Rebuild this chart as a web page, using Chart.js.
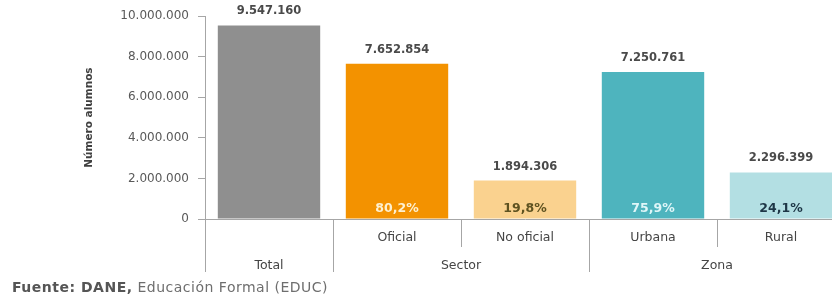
<!DOCTYPE html>
<html>
<head>
<meta charset="utf-8">
<script src="https://cdn.jsdelivr.net/npm/chart.js@4/dist/chart.umd.min.js"></script>
<style>
    html, body { margin: 0; padding: 0; background: #fff; overflow: hidden; }
    #wrap { position: relative; width: 846px; height: 297px; }
    #fuente {
        position: absolute; left: 12px; top: 279px;
        font: 14px "DejaVu Sans", sans-serif; color: #6e6e6e; white-space: nowrap;
        line-height: 17px; letter-spacing: 0.5px;
    }
    #fuente b { color: #555; }
</style>
</head>
<body>
<div id="wrap">
    <canvas id="chart" width="846" height="297"></canvas>
    <div id="fuente"><b>Fuente: DANE,</b> Educación Formal (EDUC)</div>
</div>
<script>
// Datos: número de alumnos
const categorias = ['Total', 'Oficial', 'No oficial', 'Urbana', 'Rural'];
const grupos = ['', 'Sector', 'Sector', 'Zona', 'Zona'];
const alumnos = [9547160, 7652854, 1894306, 7250761, 2296399];
const porcentajes = ['', '80,2%', '19,8%', '75,9%', '24,1%'];
const colores = ['#8f8f8f', '#f39200', '#fad28f', '#4eb4be', '#b3dfe3'];
const coloresPct = ['#fff', '#fdf0d0', '#5e5220', '#dff6f8', '#1d3646'];
const ticksY = [0, 2000000, 4000000, 6000000, 8000000, 10000000];

const FONT = '"DejaVu Sans", sans-serif';
const GRIS = '#a6a6a6';

function formato(n) {
    return String(n).replace(/\B(?=(\d{3})+(?!\d))/g, '.');
}

// Etiquetas sobre las barras, porcentajes y ejes por niveles
const etiquetasPlugin = {
    id: 'etiquetas',
    afterDatasetsDraw(chart) {
        const ctx = chart.ctx;
        const meta = chart.getDatasetMeta(0);
        const x = chart.scales.x;
        const area = chart.chartArea;
        const medio = (x.getPixelForValue(1) - x.getPixelForValue(0)) / 2;

        ctx.save();
        ctx.textAlign = 'center';
        ctx.textBaseline = 'middle';

        meta.data.forEach((bar, i) => {
            ctx.font = 'bold 11.5px ' + FONT;
            ctx.fillStyle = '#4a4a4a';
            ctx.fillText(formato(alumnos[i]), bar.x, bar.y - 14);
            if (porcentajes[i]) {
                ctx.font = 'bold 12.5px ' + FONT;
                ctx.fillStyle = coloresPct[i];
                ctx.fillText(porcentajes[i], bar.x, area.bottom - 10);
            }
        });

        // categorías
        ctx.font = '12.5px ' + FONT;
        ctx.fillStyle = '#454545';
        categorias.forEach((c, i) => {
            const cx = x.getPixelForValue(i);
            if (grupos[i]) ctx.fillText(c, cx, 238);
            else ctx.fillText(c, cx, 266);
        });

        // grupos
        const vistos = {};
        grupos.forEach((g, i) => {
            if (!g) return;
            if (!vistos[g]) vistos[g] = [];
            vistos[g].push(x.getPixelForValue(i));
        });
        Object.keys(vistos).forEach(g => {
            const p = vistos[g];
            ctx.fillText(g, (p[0] + p[p.length - 1]) / 2, 266);
        });

        // separadores
        ctx.strokeStyle = GRIS;
        ctx.lineWidth = 1;
        for (let i = 0; i < categorias.length; i++) {
            const sx = Math.round(x.getPixelForValue(i) - medio) + 0.5;
            const largo = !(i > 0 && grupos[i] && grupos[i] === grupos[i - 1]);
            ctx.beginPath();
            ctx.moveTo(sx, area.bottom);
            ctx.lineTo(sx, largo ? 272 : 247);
            ctx.stroke();
        }
        ctx.restore();
    }
};

new Chart(document.getElementById('chart'), {
    type: 'bar',
    data: {
        labels: categorias,
        datasets: [{
            data: alumnos,
            backgroundColor: colores,
            borderWidth: 0,
            barPercentage: 1,
            categoryPercentage: 0.8
        }]
    },
    options: {
        responsive: false,
        animation: false,
        layout: { padding: { left: 80, top: 16, right: 1, bottom: 0 } },
        plugins: {
            legend: { display: false },
            tooltip: { enabled: false }
        },
        scales: {
            x: {
                grid: { display: false },
                ticks: { display: false },
                border: { color: GRIS, width: 1 },
                afterFit(scale) { scale.height = 78; }
            },
            y: {
                min: 0,
                max: 10000000,
                afterBuildTicks(scale) {
                    scale.ticks = ticksY.map(v => ({ value: v }));
                },
                afterFit(scale) { scale.width = 125; },
                grid: {
                    drawOnChartArea: false,
                    drawTicks: true,
                    tickLength: 7,
                    color: GRIS
                },
                border: { color: GRIS, width: 1 },
                ticks: {
                    padding: 9,
                    color: '#595959',
                    font: { family: FONT, size: 12 },
                    callback: v => formato(v)
                },
                title: {
                    display: true,
                    text: 'Número alumnos',
                    color: '#404040',
                    font: { family: FONT, size: 10.5, weight: 'bold' },
                    padding: { top: 3, bottom: 0 }
                }
            }
        }
    },
    plugins: [etiquetasPlugin]
});
</script>
</body>
</html>
